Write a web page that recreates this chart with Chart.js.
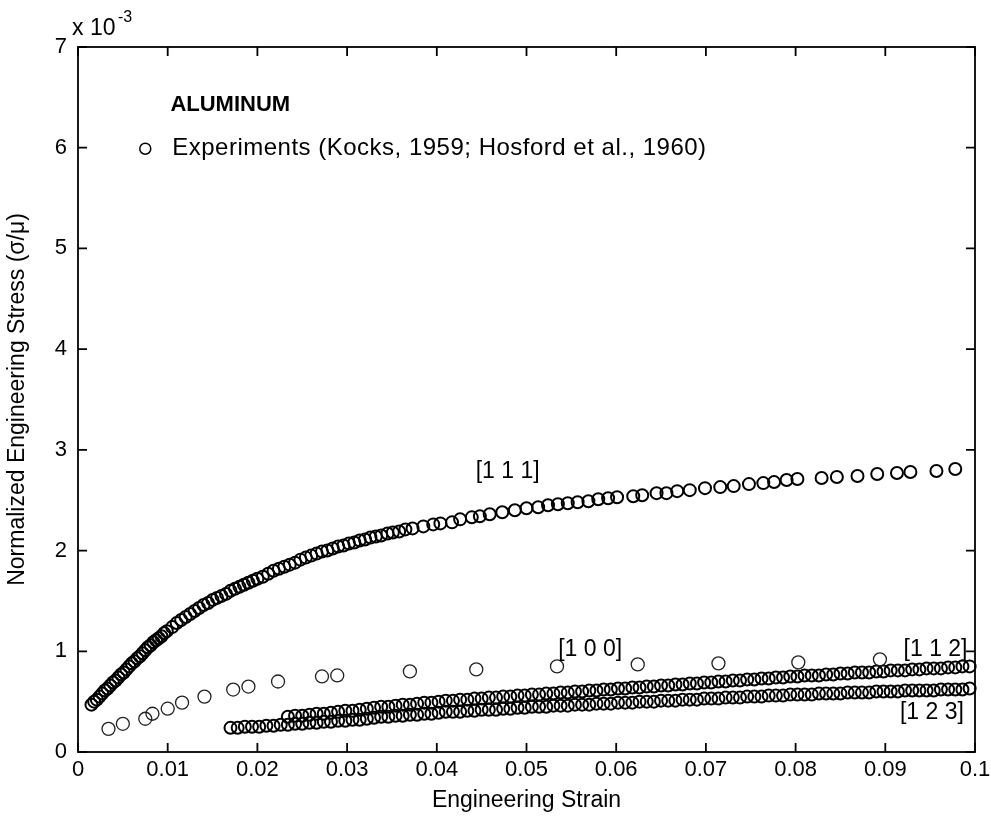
<!DOCTYPE html>
<html>
<head>
<meta charset="utf-8">
<title>Aluminum stress-strain</title>
<script src="https://cdn.jsdelivr.net/npm/chart.js@4.4.0/dist/chart.umd.min.js"></script>
<style>
  html, body { margin: 0; padding: 0; background: #fff; }
  #chart { display: block; }
</style>
</head>
<body>
<canvas id="chart" width="991" height="816"></canvas>
<script>
// values, stress in units of 1e-3
const xTicks = [0, 0.01, 0.02, 0.03, 0.04, 0.05, 0.06, 0.07, 0.08, 0.09, 0.1];
const xTickLabels = ['0', '0.01', '0.02', '0.03', '0.04', '0.05', '0.06', '0.07', '0.08', '0.09', '0.1'];
const yTicks = [0, 1, 2, 3, 4, 5, 6, 7];
const yTickLabels = ['0', '1', '2', '3', '4', '5', '6', '7'];

// [1 1 1]
const strain111 = [0.0015,0.0018,0.0021,0.0024,0.0027,0.0030,0.0033,0.0036,0.0039,0.0042,0.0045,0.0048,0.0051,0.0054,0.0057,0.0060,0.0063,0.0066,0.0069,0.0072,0.0075,0.0078,0.0081,0.0084,0.0087,0.0090,0.0093,0.0096,0.0099,
  0.0105,0.0110,0.0115,0.0120,0.0125,0.0130,0.0135,0.0140,0.0145,0.0150,0.0155,0.0160,0.0165,0.0170,0.0175,0.0180,0.0185,0.0190,0.0195,0.0200,
  0.0206,0.0212,0.0218,0.0224,0.0230,0.0236,0.0242,0.0248,0.0254,0.0260,0.0266,0.0272,0.0278,0.0284,0.0290,0.0296,0.0302,0.0308,0.0314,0.0320,0.0326,0.0332,0.0338,
  0.0345,0.0351,0.0358,0.0365,0.0373,0.0385,0.0396,0.0404,0.0417,0.0426,0.0439,0.0448,0.0459,0.0473,0.0487,0.0500,0.0513,0.0524,0.0535,0.0546,0.0557,0.0569,0.0580,0.0591,0.0601,0.0619,0.0629,0.0645,0.0656,0.0668,
  0.0682,0.0699,0.0716,0.0731,0.0748,0.0764,0.0776,0.0790,0.0802,0.0829,0.0846,0.0869,0.0891,0.0913,0.0928,0.0957,0.0978];
const stress111 = [0.47,0.50,0.52,0.55,0.58,0.61,0.63,0.66,0.69,0.71,0.74,0.77,0.79,0.82,0.85,0.88,0.90,0.93,0.95,0.98,1.01,1.04,1.06,1.09,1.11,1.13,1.15,1.18,1.20,
  1.24,1.28,1.31,1.34,1.37,1.40,1.43,1.46,1.48,1.51,1.53,1.55,1.57,1.60,1.62,1.64,1.66,1.68,1.70,1.72,
  1.74,1.77,1.80,1.82,1.84,1.86,1.88,1.91,1.93,1.95,1.97,1.99,2.00,2.02,2.04,2.05,2.07,2.08,2.10,2.11,2.13,2.14,2.15,
  2.17,2.18,2.19,2.21,2.22,2.24,2.26,2.27,2.28,2.31,2.33,2.34,2.36,2.38,2.40,2.42,2.43,2.45,2.46,2.47,2.48,2.49,2.51,2.52,2.53,2.54,2.55,2.57,2.57,2.59,
  2.60,2.62,2.63,2.64,2.66,2.67,2.68,2.70,2.71,2.72,2.73,2.74,2.76,2.77,2.78,2.79,2.81];

// [1 0 0]
const strain100 = [0.0034,0.0050,0.0075,0.0083,0.0100,0.0116,0.0141,0.0173,0.0190,0.0223,0.0272,0.0289,0.0370,0.0444,0.0534,0.0624,0.0714,0.0803,0.0894];
const stress100 = [0.23,0.28,0.33,0.38,0.43,0.49,0.55,0.62,0.65,0.70,0.75,0.76,0.80,0.82,0.85,0.87,0.88,0.89,0.92];

// [1 1 2] and [1 2 3] share one strain column
const strainB = [0.0170,0.0178,0.0186,0.0194,0.0202,0.0210,0.0218,0.0226,0.0234,0.0242,0.0250,0.0258,0.0266,0.0274,0.0282,0.0290,0.0298,0.0306,0.0314,0.0322,
  0.0330,0.0338,0.0346,0.0354,0.0362,0.0370,0.0378,0.0386,0.0394,0.0402,0.0410,0.0418,0.0426,0.0434,0.0442,0.0450,0.0458,0.0466,0.0474,0.0482,
  0.0490,0.0498,0.0506,0.0514,0.0522,0.0530,0.0538,0.0546,0.0554,0.0562,0.0570,0.0578,0.0586,0.0594,0.0602,0.0610,0.0618,0.0626,0.0634,0.0642,
  0.0650,0.0658,0.0666,0.0674,0.0682,0.0690,0.0698,0.0706,0.0714,0.0722,0.0730,0.0738,0.0746,0.0754,0.0762,0.0770,0.0778,0.0786,0.0794,0.0802,
  0.0810,0.0818,0.0826,0.0834,0.0842,0.0850,0.0858,0.0866,0.0874,0.0882,0.0890,0.0898,0.0906,0.0914,0.0922,0.0930,0.0938,0.0946,0.0954,0.0962,
  0.0970,0.0978,0.0986,0.0994];
const stress112 = [null,null,null,null,null,null,null,null,
  0.35,0.36,0.36,0.37,0.38,0.38,0.39,0.40,
  0.41,0.41,0.42,0.43,0.44,0.45,0.45,0.46,
  0.47,0.47,0.48,0.49,0.49,0.50,0.51,0.51,
  0.52,0.52,0.53,0.53,0.54,0.54,0.55,0.55,
  0.56,0.56,0.57,0.57,0.58,0.58,0.59,0.59,
  0.60,0.60,0.61,0.61,0.62,0.62,0.63,0.63,
  0.64,0.64,0.65,0.65,0.66,0.66,0.67,0.67,
  0.68,0.68,0.69,0.69,0.70,0.70,0.71,0.71,
  0.72,0.72,0.73,0.73,0.74,0.74,0.75,0.75,
  0.76,0.76,0.76,0.77,0.77,0.78,0.78,0.79,
  0.79,0.79,0.80,0.80,0.81,0.81,0.81,0.82,
  0.82,0.83,0.83,0.83,0.84,0.84,0.85,0.85];
const stress123 = [0.24,0.24,0.25,0.25,0.25,0.26,0.26,0.27,
  0.27,0.28,0.28,0.29,0.29,0.30,0.30,0.31,
  0.31,0.32,0.32,0.33,0.34,0.35,0.35,0.36,
  0.36,0.37,0.37,0.38,0.38,0.39,0.40,0.40,
  0.40,0.41,0.41,0.42,0.42,0.42,0.43,0.43,
  0.44,0.44,0.45,0.45,0.45,0.46,0.46,0.46,
  0.47,0.47,0.47,0.48,0.48,0.48,0.49,0.49,
  0.49,0.50,0.50,0.50,0.51,0.51,0.51,0.52,
  0.52,0.52,0.53,0.53,0.53,0.54,0.54,0.54,
  0.55,0.55,0.55,0.56,0.56,0.56,0.57,0.57,
  0.57,0.57,0.58,0.58,0.58,0.58,0.59,0.59,
  0.59,0.59,0.60,0.60,0.60,0.60,0.61,0.61,
  0.61,0.61,0.61,0.62,0.62,0.62,0.62,0.63];

const FONT = '"Liberation Sans", Arial, Helvetica, sans-serif';

// text placed in data coordinates
const notes = [
  { text: 'ALUMINUM', x: 0.0103, y: 6.42, align: 'left', font: 'bold 22px ' + FONT, spacing: '0px' },
  { text: 'Experiments (Kocks, 1959; Hosford et al., 1960)', x: 0.0105, y: 5.99, align: 'left', font: '24px ' + FONT, spacing: '0.5px' },
  { text: '[1 1 1]', x: 0.0479, y: 2.78, align: 'center', font: '23px ' + FONT, spacing: '0px' },
  { text: '[1 0 0]', x: 0.0571, y: 1.02, align: 'center', font: '23px ' + FONT, spacing: '0px' },
  { text: '[1 1 2]', x: 0.0956, y: 1.02, align: 'center', font: '23px ' + FONT, spacing: '0px' },
  { text: '[1 2 3]', x: 0.0952, y: 0.39, align: 'center', font: '23px ' + FONT, spacing: '0px' }
];
const legendMark = { x: 0.0075, y: 5.99 };

function toPoints(xs, ys) {
  const out = [];
  for (let i = 0; i < Math.min(xs.length, ys.length); i++) {
    if (ys[i] !== null) out.push({ x: xs[i], y: ys[i] });
  }
  return out;
}

const frame = {
  id: 'frame',
  afterDraw(chart) {
    const { ctx, chartArea: a } = chart;
    const sx = chart.scales.x, sy = chart.scales.y;
    ctx.save();
    ctx.strokeStyle = '#000';
    ctx.lineWidth = 1.8;
    ctx.strokeRect(a.left, a.top, a.right - a.left, a.bottom - a.top);
    ctx.beginPath();
    xTicks.forEach(v => {
      const px = sx.getPixelForValue(v);
      ctx.moveTo(px, a.bottom); ctx.lineTo(px, a.bottom - 9);
      ctx.moveTo(px, a.top); ctx.lineTo(px, a.top + 9);
    });
    yTicks.forEach(v => {
      const py = sy.getPixelForValue(v);
      ctx.moveTo(a.left, py); ctx.lineTo(a.left + 9, py);
      ctx.moveTo(a.right, py); ctx.lineTo(a.right - 9, py);
    });
    ctx.stroke();

    // exponent
    ctx.fillStyle = '#000';
    ctx.textBaseline = 'middle';
    ctx.textAlign = 'left';
    ctx.font = '23px ' + FONT;
    ctx.fillText('x 10', a.left - 6, a.top - 18);
    ctx.font = '16px ' + FONT;
    ctx.fillText('-3', a.left + 40, a.top - 29);

    notes.forEach(n => {
      ctx.font = n.font;
      ctx.letterSpacing = n.spacing;
      ctx.textAlign = n.align;
      ctx.fillText(n.text, sx.getPixelForValue(n.x), sy.getPixelForValue(n.y));
    });
    ctx.letterSpacing = '0px';

    ctx.lineWidth = 1.5;
    ctx.beginPath();
    ctx.arc(sx.getPixelForValue(legendMark.x), sy.getPixelForValue(legendMark.y), 5.5, 0, Math.PI * 2);
    ctx.stroke();
    ctx.restore();
  }
};

Chart.defaults.font.family = FONT;
Chart.defaults.color = '#000';

const circle = {
  showLine: false,
  pointStyle: 'circle',
  backgroundColor: 'rgba(0,0,0,0)',
  clip: false
};

new Chart(document.getElementById('chart'), {
  type: 'scatter',
  data: {
    datasets: [
      Object.assign({ label: '[1 1 1]', data: toPoints(strain111, stress111), pointRadius: 6, borderWidth: 2, borderColor: '#000' }, circle),
      Object.assign({ label: '[1 0 0]', data: toPoints(strain100, stress100), pointRadius: 6.5, borderWidth: 1.3, borderColor: '#222' }, circle),
      Object.assign({ label: '[1 1 2]', data: toPoints(strainB, stress112), pointRadius: 6, borderWidth: 2, borderColor: '#000' }, circle),
      Object.assign({ label: '[1 2 3]', data: toPoints(strainB, stress123), pointRadius: 6, borderWidth: 2, borderColor: '#000' }, circle)
    ]
  },
  options: {
    responsive: false,
    animation: false,
    events: [],
    layout: { padding: { left: 0, top: 47, right: 16, bottom: 0 } },
    plugins: { legend: { display: false }, tooltip: { enabled: false } },
    scales: {
      x: {
        type: 'linear', min: 0, max: 0.1,
        afterBuildTicks: s => { s.ticks = xTicks.map(v => ({ value: v })); },
        afterFit: s => { s.height = 64; s.paddingLeft = 0; s.paddingRight = 0; },
        grid: { display: false, drawTicks: false },
        border: { display: false },
        ticks: {
          callback: (v, i) => xTickLabels[i],
          font: { size: 22 }, padding: 5, maxRotation: 0, autoSkip: false
        },
        title: { display: true, text: 'Engineering Strain', font: { size: 23 }, padding: { top: 0, bottom: 2 } }
      },
      y: {
        type: 'linear', min: 0, max: 7,
        afterBuildTicks: s => { s.ticks = yTicks.map(v => ({ value: v })); },
        afterFit: s => { s.width = 78; s.paddingTop = 0; s.paddingBottom = 0; },
        grid: { display: false, drawTicks: false },
        border: { display: false },
        ticks: {
          callback: (v, i) => yTickLabels[i],
          font: { size: 22 }, padding: 11, autoSkip: false
        },
        title: { display: true, text: 'Normalized Engineering Stress (σ/μ)', font: { size: 23 }, padding: { top: 4, bottom: 0 } }
      }
    }
  },
  plugins: [frame]
});
</script>
</body>
</html>
